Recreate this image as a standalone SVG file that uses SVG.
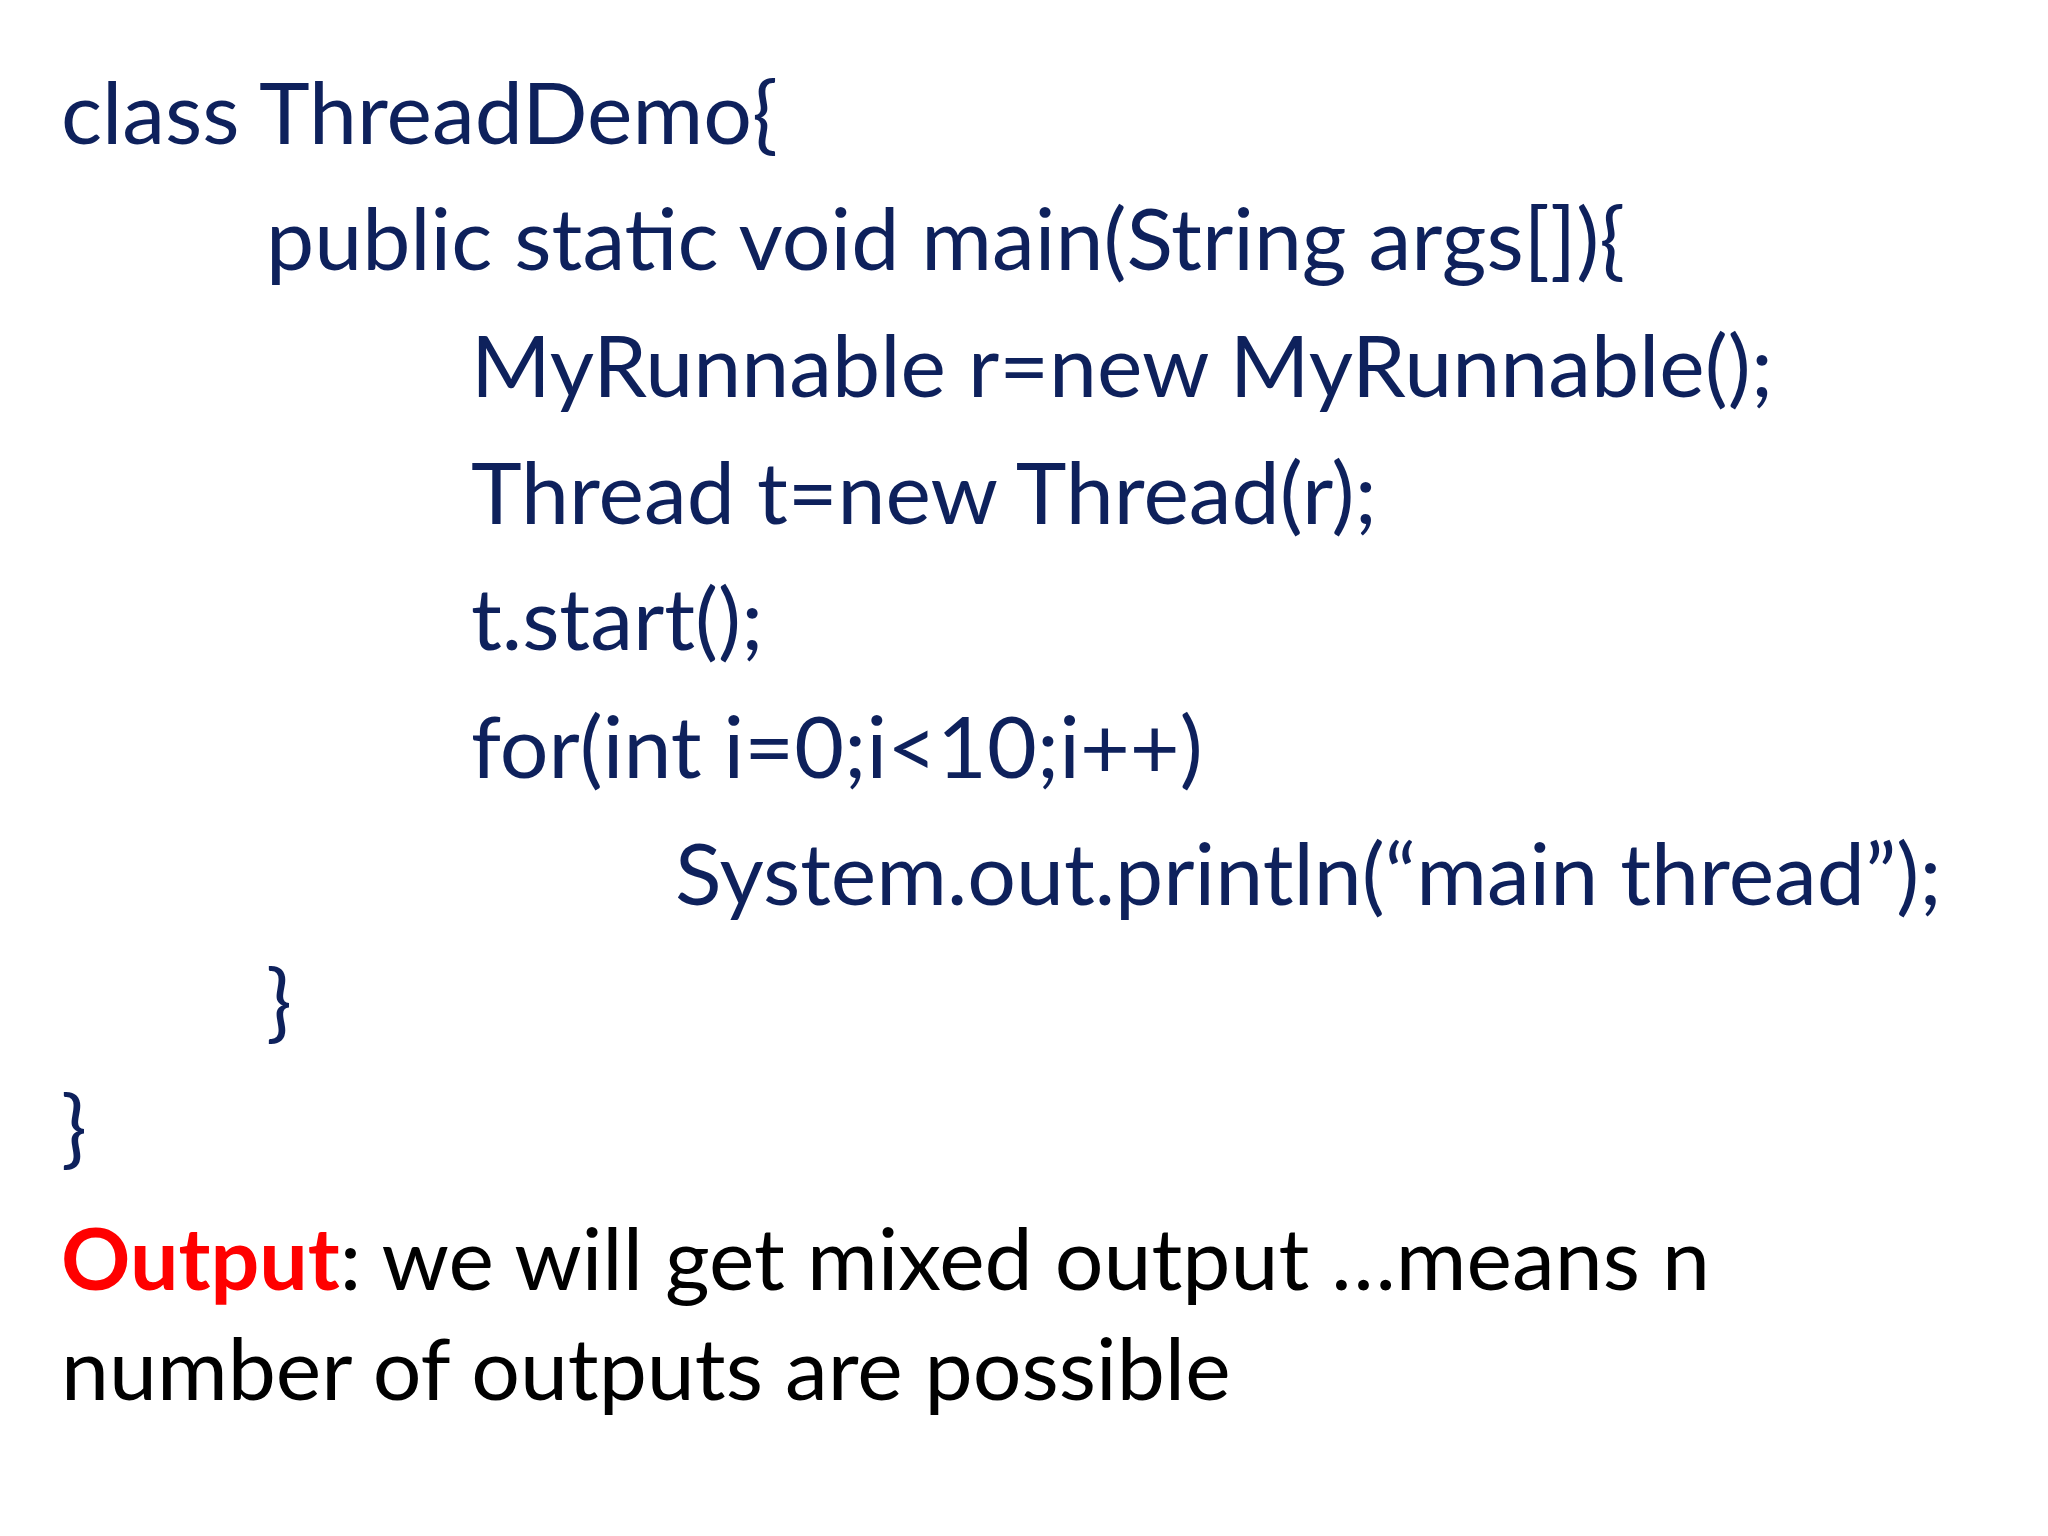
<svg xmlns="http://www.w3.org/2000/svg" width="2048" height="1536" viewBox="0 0 2048 1536">
<style>
.c{font-family:Lato,"Liberation Sans",sans-serif;font-size:86px;fill:#0e215c}
.o{font-family:Lato,"Liberation Sans",sans-serif;font-size:86px;fill:#000}
.r{fill:#ff0000;font-weight:bold}
</style>
<rect width="2048" height="1536" fill="#fff"/>
<g id="code">
<text class="c" x="61" y="144">class ThreadDemo{</text>
<text class="c" x="266" y="270">public static void main(String args[]){</text>
<text class="c" x="471" y="397">MyRunnable r=new MyRunnable();</text>
<text class="c" x="471" y="524">Thread t=new Thread(r);</text>
<text class="c" x="471" y="650">t.start();</text>
<text class="c" x="471" y="778">for(int i=0;i&lt;10;i++)</text>
<text class="c" x="675" y="905">System.out.println(“main thread”);</text>
<text class="c" x="266" y="1032">}</text>
<text class="c" x="61" y="1158">}</text>
</g>
<g id="output">
<text class="o" x="61" y="1290"><tspan class="r">Output</tspan>: we will get mixed output …means n</text>
<text class="o" x="61" y="1400">number of outputs are possible</text>
</g>
</svg>
